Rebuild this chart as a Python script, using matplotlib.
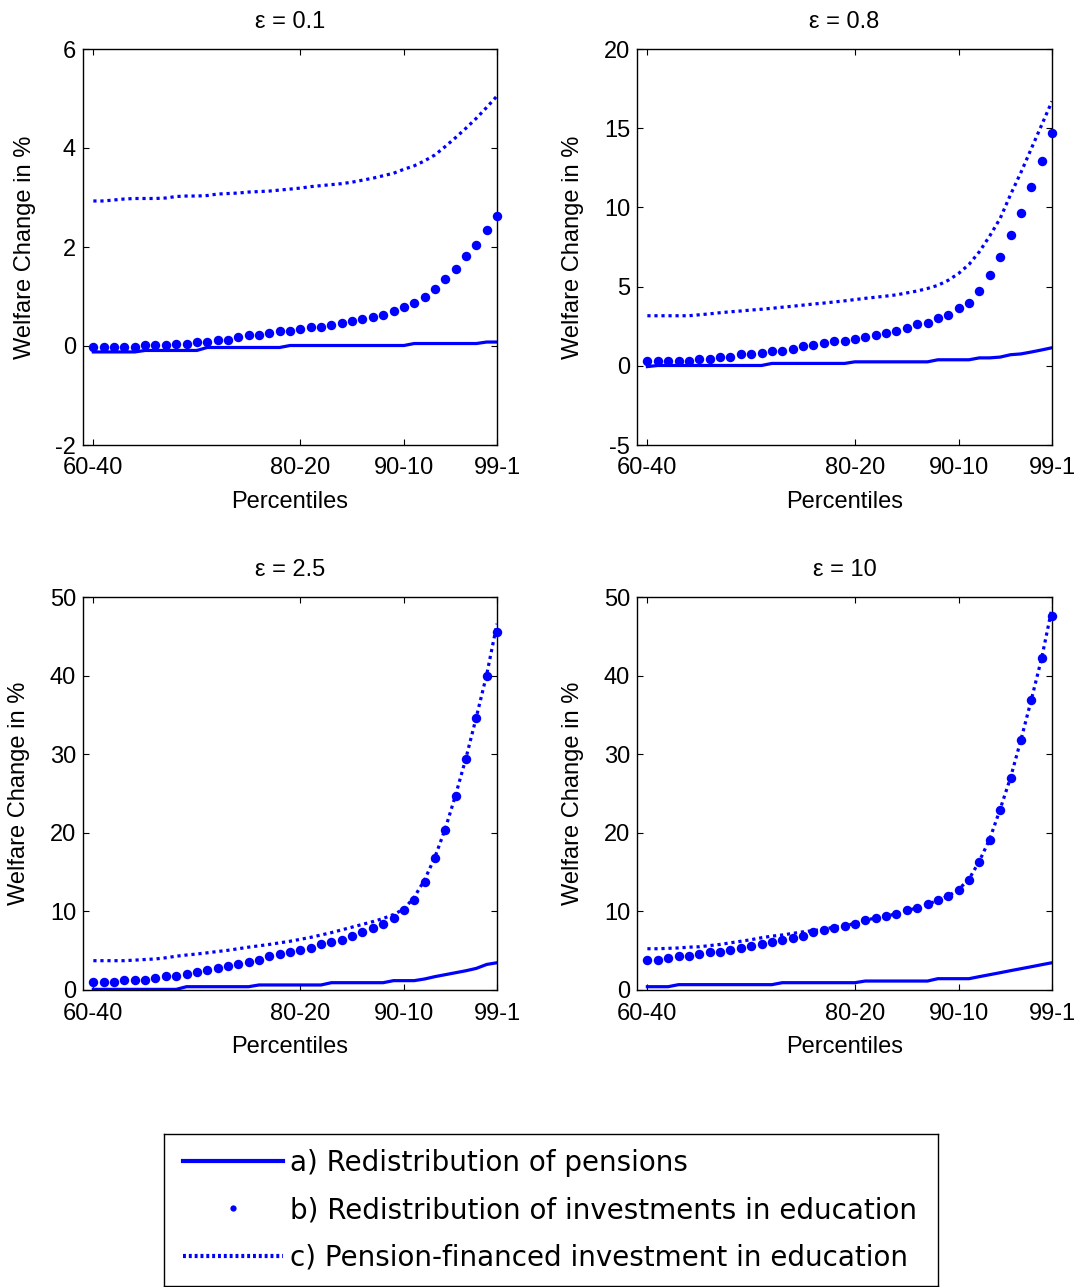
import numpy as np
import matplotlib
matplotlib.use('Agg')
import matplotlib.pyplot as plt
from matplotlib.lines import Line2D

plt.rcParams['font.family'] = ['Liberation Sans', 'DejaVu Sans']
plt.rcParams['axes.unicode_minus'] = False

# top percentile of each ratio: 60-40, 61-39, ..., 99-1
pct = np.arange(60, 100)
xtick_pos = [60, 80, 90, 99]
xtick_labels = ['60-40', '80-20', '90-10', '99-1']

# eps = 0.1
a_01 = [-0.12, -0.12, -0.12, -0.12, -0.12, -0.09, -0.09, -0.09, -0.09, -0.09,
        -0.09, -0.03, -0.03, -0.03, -0.03, -0.03, -0.03, -0.03, -0.03, 0.01,
        0.01, 0.01, 0.01, 0.01, 0.01, 0.01, 0.01, 0.01, 0.01, 0.01,
        0.01, 0.05, 0.05, 0.05, 0.05, 0.05, 0.05, 0.05, 0.08, 0.08]
b_01 = [-0.02, -0.02, -0.02, -0.02, -0.02, 0.02, 0.02, 0.02, 0.05, 0.05,
        0.09, 0.09, 0.13, 0.13, 0.18, 0.22, 0.22, 0.26, 0.30, 0.30,
        0.34, 0.38, 0.38, 0.43, 0.47, 0.51, 0.55, 0.59, 0.63, 0.71,
        0.79, 0.87, 0.99, 1.16, 1.36, 1.56, 1.81, 2.05, 2.34, 2.62]
c_01 = [2.93, 2.93, 2.95, 2.97, 2.98, 2.98, 2.98, 2.99, 3.02, 3.03,
        3.03, 3.04, 3.07, 3.08, 3.09, 3.11, 3.12, 3.13, 3.15, 3.17,
        3.19, 3.22, 3.24, 3.26, 3.28, 3.31, 3.35, 3.39, 3.44, 3.49,
        3.57, 3.64, 3.74, 3.86, 4.03, 4.21, 4.40, 4.60, 4.82, 5.05]

# eps = 0.8
a_08 = [-0.05, 0.02, 0.02, 0.02, 0.02, 0.02, 0.02, 0.02, 0.02, 0.02,
        0.02, 0.02, 0.15, 0.15, 0.15, 0.15, 0.15, 0.15, 0.15, 0.15,
        0.25, 0.25, 0.25, 0.25, 0.25, 0.25, 0.25, 0.25, 0.38, 0.38,
        0.38, 0.38, 0.50, 0.50, 0.55, 0.70, 0.75, 0.87, 1.00, 1.14]
b_08 = [0.32, 0.32, 0.32, 0.32, 0.32, 0.42, 0.42, 0.57, 0.57, 0.72,
        0.72, 0.82, 0.95, 0.95, 1.07, 1.24, 1.33, 1.47, 1.58, 1.58,
        1.71, 1.83, 1.96, 2.10, 2.21, 2.36, 2.63, 2.72, 2.99, 3.22,
        3.62, 3.96, 4.74, 5.75, 6.88, 8.27, 9.66, 11.30, 12.95, 14.70]
c_08 = [3.16, 3.16, 3.16, 3.16, 3.16, 3.22, 3.28, 3.35, 3.41, 3.46,
        3.52, 3.57, 3.63, 3.70, 3.76, 3.83, 3.90, 3.96, 4.03, 4.10,
        4.18, 4.26, 4.33, 4.40, 4.48, 4.60, 4.72, 4.88, 5.08, 5.40,
        5.83, 6.40, 7.20, 8.20, 9.30, 10.80, 12.20, 13.70, 15.20, 16.70]

# eps = 2.5
a_25 = [0.08, 0.08, 0.08, 0.08, 0.08, 0.08, 0.08, 0.08, 0.08, 0.42,
        0.42, 0.42, 0.42, 0.42, 0.42, 0.42, 0.64, 0.64, 0.64, 0.64,
        0.64, 0.64, 0.64, 0.93, 0.93, 0.93, 0.93, 0.93, 0.93, 1.19,
        1.19, 1.19, 1.40, 1.70, 1.95, 2.20, 2.45, 2.75, 3.25, 3.47]
b_25 = [0.97, 0.97, 0.97, 1.27, 1.27, 1.27, 1.57, 1.78, 1.78, 2.03,
        2.29, 2.54, 2.84, 3.09, 3.35, 3.60, 3.81, 4.32, 4.58, 4.83,
        5.08, 5.34, 5.85, 6.10, 6.36, 6.86, 7.37, 7.88, 8.39, 9.15,
        10.17, 11.44, 13.73, 16.78, 20.34, 24.66, 29.45, 34.58, 39.90, 45.50]
c_25 = [3.73, 3.73, 3.73, 3.73, 3.80, 3.88, 3.95, 4.10, 4.30, 4.45,
        4.58, 4.73, 4.90, 5.05, 5.25, 5.45, 5.62, 5.80, 6.00, 6.20,
        6.45, 6.70, 7.00, 7.30, 7.65, 8.00, 8.35, 8.70, 9.10, 9.60,
        10.30, 11.80, 14.00, 16.90, 20.50, 24.80, 29.50, 34.70, 40.10, 46.60]

# eps = 10
a_10 = [0.42, 0.42, 0.42, 0.68, 0.68, 0.68, 0.68, 0.68, 0.68, 0.68,
        0.68, 0.68, 0.68, 0.93, 0.93, 0.93, 0.93, 0.93, 0.93, 0.93,
        0.93, 1.14, 1.14, 1.14, 1.14, 1.14, 1.14, 1.14, 1.44, 1.44,
        1.44, 1.44, 1.70, 1.95, 2.20, 2.46, 2.71, 2.96, 3.22, 3.47]
b_10 = [3.81, 3.81, 4.11, 4.36, 4.36, 4.58, 4.83, 4.83, 5.08, 5.34,
        5.59, 5.85, 6.10, 6.36, 6.61, 6.86, 7.37, 7.67, 7.92, 8.18,
        8.39, 8.90, 9.15, 9.41, 9.66, 10.17, 10.42, 10.93, 11.44, 11.95,
        12.71, 13.98, 16.27, 19.07, 22.88, 26.95, 31.78, 36.86, 42.20, 47.60]
c_10 = [5.25, 5.25, 5.30, 5.35, 5.45, 5.50, 5.65, 5.80, 6.00, 6.20,
        6.40, 6.65, 6.85, 7.00, 7.20, 7.40, 7.55, 7.75, 8.00, 8.20,
        8.45, 8.90, 9.15, 9.40, 9.70, 10.10, 10.45, 10.90, 11.40, 11.95,
        12.80, 14.10, 16.40, 19.20, 23.00, 27.00, 31.80, 36.90, 42.20, 48.60]

titles = ['\u03b5 = 0.1', '\u03b5 = 0.8', '\u03b5 = 2.5', '\u03b5 = 10']
ylims = [(-2, 6), (-5, 20), (0, 50), (0, 50)]
yticks = [[-2, 0, 2, 4, 6], [-5, 0, 5, 10, 15, 20],
          [0, 10, 20, 30, 40, 50], [0, 10, 20, 30, 40, 50]]
series = [(a_01, b_01, c_01), (a_08, b_08, c_08),
          (a_25, b_25, c_25), (a_10, b_10, c_10)]

legend_labels = ['a) Redistribution of pensions',
                 'b) Redistribution of investments in education',
                 'c) Pension-financed investment in education']

W, H = 1076, 1287
fig = plt.figure(figsize=(W / 100, H / 100), dpi=100)

boxes = [(83, 49, 414, 396), (637, 49, 415, 396),
         (83, 597, 414, 393), (637, 597, 415, 393)]

blue = (0, 0, 1)
for i, (l, t, w, h) in enumerate(boxes):
    ax = fig.add_axes([l / W, 1 - (t + h) / H, w / W, h / H])
    a, b, c = series[i]
    ax.plot(pct, a, '-', color=blue, lw=2.3, zorder=2)
    ax.plot(pct, c, color=blue, lw=2.3, ls=(0, (1, 1.2)), zorder=2)
    ax.plot(pct, b, 'o', color=blue, ms=6.8, mew=0, clip_on=False, zorder=3)
    ax.set_xlim(59, 99)
    ax.set_ylim(*ylims[i])
    ax.set_xticks(xtick_pos)
    ax.set_xticklabels(xtick_labels)
    ax.set_yticks(yticks[i])
    ax.tick_params(direction='in', top=True, right=True, length=4,
                   width=0.8, labelsize=17)
    ax.tick_params(axis='x', pad=9)
    ax.tick_params(axis='y', pad=5)
    for s in ax.spines.values():
        s.set_linewidth(1.0)
    ax.set_xlabel('Percentiles', fontsize=17, labelpad=8)
    ax.set_ylabel('Welfare Change in %', fontsize=17, labelpad=14)
    ax.set_title(titles[i], fontsize=17, pad=15)

# legend box
lax = fig.add_axes([164 / W, 1 / H, 774 / W, 152 / H])
lax.set_xticks([])
lax.set_yticks([])
for s in lax.spines.values():
    s.set_linewidth(1.0)
handles = [Line2D([], [], color=blue, lw=3),
           Line2D([], [], color=blue, ls='none', marker='o', ms=4.5, mew=0),
           Line2D([], [], color=blue, lw=3, ls=(0, (0.7, 0.7)))]
lax.legend(handles, legend_labels, loc='center left', bbox_to_anchor=(0, 0.5),
           borderaxespad=0, borderpad=0.68, frameon=False, handlelength=3.6,
           handletextpad=0.25, labelspacing=0.70,
           prop={'family': 'DejaVu Sans', 'size': 20})

fig.savefig('out.png', dpi=100)
